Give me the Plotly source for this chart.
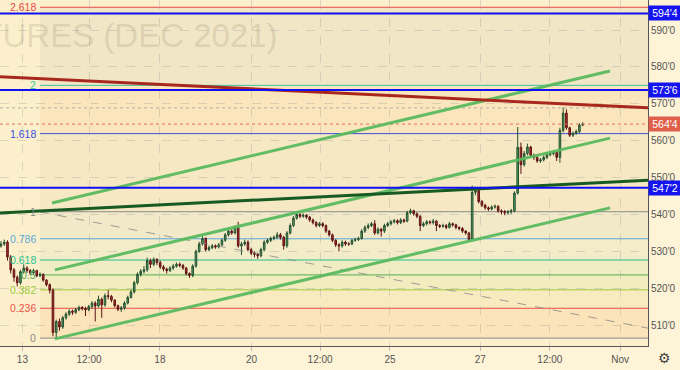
import plotly.graph_objects as go

# ---------------- data (hourly bars, price in cents/bu) ----------------
opens = [531.5, 532.0, 532.5, 528.5, 525.0, 523.0, 521.5, 524.5, 525.5, 524.8,
         524.2, 524.8, 523.4, 523.8, 522.2, 521.0, 519.5, 508.0, 511.0, 509.5,
         512.0, 513.0, 513.8, 513.5, 514.2, 514.8, 514.5, 514.2, 515.0, 516.0,
         515.2, 517.0, 515.5, 518.0, 517.8, 516.8, 515.3, 514.3, 514.7, 516.0,
         517.5, 519.0, 521.5, 523.8, 524.6, 525.0, 527.5, 526.5, 527.8, 527.0,
         525.8, 525.2, 524.8, 525.5, 526.0, 526.5, 526.2, 525.5, 524.0, 523.5,
         526.0, 530.0, 532.0, 533.5, 530.5, 531.0, 531.5, 531.2, 531.8, 533.0,
         534.5, 535.5, 535.0, 536.5, 531.5, 532.0, 532.5, 530.5, 529.5, 529.2,
         528.8, 530.5, 532.5, 533.0, 533.5, 533.8, 534.5, 533.8, 531.5, 535.0,
         537.0, 539.0, 540.0, 539.5, 539.8, 539.3, 538.5, 537.8, 537.0, 537.5,
         537.0, 535.5, 534.5, 533.0, 531.8, 531.5, 532.5, 532.0, 532.0, 533.0,
         533.2, 533.5, 535.5, 536.5, 537.0, 537.5, 535.0, 536.0, 535.5, 537.0,
         537.5, 538.0, 538.3, 537.8, 538.5, 538.2, 540.5, 541.0, 540.2, 539.5,
         537.0, 537.5, 538.0, 537.8, 538.2, 537.0, 536.8, 537.0, 536.5, 537.5,
         537.2, 536.5, 536.2, 535.5, 535.0, 533.2, 546.0, 546.5, 543.5, 542.5,
         541.8, 541.5, 542.0, 542.2, 541.0, 540.8, 540.5, 540.7, 541.0, 545.8,
         558.2, 553.5, 556.5, 558.3, 556.0, 555.5, 554.5, 554.8, 555.5, 556.2,
         556.5, 556.8, 555.5, 562.8, 567.5, 563.5, 561.5, 562.0, 562.5, 564.2]
highs = [532.8, 533.2, 533.0, 529.0, 525.5, 523.5, 525.0, 526.5, 526.0, 525.2,
         525.3, 525.0, 524.3, 524.0, 522.5, 521.3, 520.0, 511.5, 511.8, 512.5,
         513.5, 514.3, 514.2, 514.7, 515.3, 515.2, 515.0, 515.5, 516.5, 516.5,
         518.0, 517.5, 518.6, 519.5, 518.2, 517.0, 515.6, 515.2, 516.5, 518.0,
         519.6, 522.0, 524.3, 525.2, 526.0, 528.3, 528.0, 528.4, 528.2, 527.5,
         526.3, 525.6, 526.0, 526.6, 527.0, 527.0, 526.6, 525.8, 524.3, 526.5,
         530.5, 532.6, 534.2, 533.8, 531.6, 532.0, 531.9, 532.3, 533.5, 535.0,
         536.0, 536.0, 537.0, 538.0, 532.6, 533.2, 533.0, 531.0, 530.0, 529.6,
         531.0, 533.0, 533.5, 534.0, 534.3, 535.2, 535.0, 534.2, 535.5, 537.6,
         539.6, 540.6, 540.4, 540.3, 540.1, 539.6, 538.9, 538.2, 538.0, 537.9,
         537.3, 535.8, 534.8, 533.3, 532.2, 533.0, 532.9, 532.5, 533.4, 533.7,
         534.0, 536.0, 537.0, 537.6, 538.0, 538.5, 536.5, 536.4, 537.5, 538.0,
         538.5, 538.8, 538.7, 539.0, 538.9, 541.0, 541.6, 541.3, 540.6, 539.8,
         538.0, 538.5, 538.4, 538.8, 538.5, 537.4, 537.5, 537.4, 538.0, 537.8,
         537.5, 536.8, 536.6, 535.8, 535.3, 547.8, 547.5, 546.8, 543.9, 542.9,
         542.2, 542.5, 542.7, 542.5, 541.4, 541.2, 541.2, 541.5, 546.3, 563.7,
         559.5, 557.2, 559.2, 558.6, 556.5, 555.8, 555.3, 556.0, 556.7, 557.0,
         557.3, 557.0, 563.5, 569.0, 568.5, 563.8, 562.5, 563.0, 564.7, 565.0]
lows = [531.0, 531.5, 527.5, 524.0, 521.8, 520.5, 521.0, 524.0, 524.2, 523.5,
        523.8, 523.0, 523.0, 521.8, 520.5, 518.6, 507.0, 506.5, 508.5, 509.0,
        511.5, 512.5, 512.8, 513.0, 513.8, 514.0, 512.5, 513.8, 514.5, 511.0,
        514.8, 512.0, 515.0, 517.0, 516.2, 514.8, 513.8, 513.6, 514.2, 515.6,
        517.2, 518.6, 521.0, 523.2, 524.0, 524.5, 525.5, 526.0, 526.3, 525.2,
        524.6, 524.0, 524.4, 525.0, 525.6, 525.7, 525.0, 523.5, 522.8, 523.0,
        525.6, 529.6, 531.6, 530.0, 530.0, 530.6, 530.7, 530.8, 531.4, 532.6,
        534.0, 534.5, 534.6, 531.0, 529.0, 531.5, 530.0, 529.0, 528.4, 528.0,
        528.4, 530.0, 532.0, 532.5, 533.0, 533.4, 533.2, 530.5, 531.0, 534.6,
        536.6, 538.6, 539.0, 539.1, 538.8, 538.0, 537.3, 536.5, 536.6, 536.5,
        535.0, 534.0, 532.5, 531.2, 530.0, 531.0, 531.5, 531.5, 531.7, 532.6,
        532.8, 533.2, 535.0, 536.0, 536.6, 534.5, 534.6, 534.0, 535.0, 536.6,
        537.0, 537.6, 537.3, 537.4, 537.7, 537.9, 540.0, 539.7, 539.0, 535.5,
        536.6, 537.0, 537.3, 537.3, 535.5, 536.3, 536.4, 536.0, 536.2, 536.7,
        536.0, 535.7, 535.0, 534.5, 532.8, 533.0, 545.2, 543.0, 542.0, 541.3,
        541.0, 541.1, 541.6, 540.5, 540.0, 539.8, 540.0, 540.2, 540.6, 545.4,
        551.0, 553.0, 556.0, 555.5, 554.8, 554.0, 554.0, 554.4, 555.0, 555.8,
        556.0, 554.5, 554.0, 562.3, 563.0, 561.0, 561.0, 561.6, 562.0, 564.0]
closes = [532.0, 532.5, 528.5, 525.0, 523.0, 521.5, 524.5, 525.5, 524.8, 524.2,
          524.8, 523.4, 523.8, 522.2, 521.0, 519.5, 508.0, 511.0, 509.5, 512.0,
          513.0, 513.8, 513.5, 514.2, 514.8, 514.5, 514.2, 515.0, 516.0, 515.2,
          517.0, 515.5, 518.0, 517.8, 516.8, 515.3, 514.3, 514.7, 516.0, 517.5,
          519.0, 521.5, 523.8, 524.6, 525.0, 527.5, 526.5, 527.8, 527.0, 525.8,
          525.2, 524.8, 525.5, 526.0, 526.5, 526.2, 525.5, 524.0, 523.5, 526.0,
          530.0, 532.0, 533.5, 530.5, 531.0, 531.5, 531.2, 531.8, 533.0, 534.5,
          535.5, 535.0, 536.5, 531.5, 532.0, 532.5, 530.5, 529.5, 529.2, 528.8,
          530.5, 532.5, 533.0, 533.5, 533.8, 534.5, 533.8, 531.5, 535.0, 537.0,
          539.0, 540.0, 539.5, 539.8, 539.3, 538.5, 537.8, 537.0, 537.5, 537.0,
          535.5, 534.5, 533.0, 531.8, 531.5, 532.5, 532.0, 532.0, 533.0, 533.2,
          533.5, 535.5, 536.5, 537.0, 537.5, 535.0, 536.0, 535.5, 537.0, 537.5,
          538.0, 538.3, 537.8, 538.5, 538.2, 540.5, 541.0, 540.2, 539.5, 537.0,
          537.5, 538.0, 537.8, 538.2, 537.0, 536.8, 537.0, 536.5, 537.5, 537.2,
          536.5, 536.2, 535.5, 535.0, 533.2, 546.0, 546.5, 543.5, 542.5, 541.8,
          541.5, 542.0, 542.2, 541.0, 540.8, 540.5, 540.7, 541.0, 545.8, 558.2,
          553.5, 556.5, 558.3, 556.0, 555.5, 554.5, 554.8, 555.5, 556.2, 556.5,
          556.8, 555.5, 562.8, 567.5, 563.5, 561.5, 562.0, 562.5, 564.2, 564.5]
bars = list(range(len(closes)))

x_tick_pos = [6.6, 27.1, 48.9, 77.1, 98.2, 119.7, 147.5, 168.9, 190.5]
x_tick_text = ["13", "12:00", "18", "20", "12:00", "25", "27", "12:00", "Nov"]
y_tick_vals = [510, 520, 530, 540, 550, 560, 570, 580, 590]
y_tick_text = ["510'0", "520'0", "530'0", "540'0", "550'0", "560'0", "570'0", "580'0", "590'0"]

# Fibonacci retracement (low -> high), starts at bar 12
fib_low, fib_high, fib_start = 506.5, 540.75, 12.0
fib_ratios = [0, 0.236, 0.382, 0.5, 0.618, 0.786, 1, 1.618, 2, 2.618]
fib_labels = ["0", "0.236", "0.382", "0.5", "0.618", "0.786", "1", "1.618", "2", "2.618"]
fib_line_colors = ["#8a8a8a", "#e8504a", "#9cc93a", "#4caf50", "#26c08c", "#5aa8d8",
                   "#8a8a8a", "#3b4fe0", "#3cc4a0", "#e84848"]
fib_fill_colors = ["rgba(245,140,70,0.13)", "rgba(225,200,90,0.10)", "rgba(170,210,80,0.10)",
                   "rgba(90,190,100,0.07)", "rgba(60,180,150,0.05)", "rgba(120,140,160,0.07)",
                   "rgba(200,170,110,0.10)", "rgba(250,160,90,0.14)", "rgba(150,150,150,0.10)"]

# Horizontal level lines (price) and their axis labels
level_prices = [594.5, 573.75, 547.25]
level_labels = ["594'4", "573'6", "547'2"]
last_price, last_label = 564.5, "564'4"
high_dot_price = 568.9

# Trend lines: (x0, y0, x1, y1) in bar index / price
red_line = [-0.3, 577.3, 199.1, 568.9]
dark_green_line = [-0.3, 540.4, 199.1, 549.3]
channel_lines = [[15.7, 543.1, 187.4, 578.9],
                 [16.6, 525.0, 187.4, 560.7],
                 [16.6, 506.3, 187.4, 541.8]]
dashed_line = [12.0, 540.7, 199.1, 509.2]

X_RANGE = [-0.3, 199.1]
Y_RANGE = [504.36, 598.13]
PLOT_W, PLOT_H = 648, 346

# ---------------- figure ----------------
fig = go.Figure()
fig.add_trace(go.Candlestick(
    x=bars, open=opens, high=highs, low=lows, close=closes,
    increasing=dict(line=dict(color="#24502f", width=1), fillcolor="#55a366"),
    decreasing=dict(line=dict(color="#5c1414", width=1), fillcolor="#b8302f"),
    whiskerwidth=0, showlegend=False, hoverinfo="skip"))

shapes = []
annotations = []
rng = fib_high - fib_low
levels = [fib_low + r * rng for r in fib_ratios]
for k in range(len(levels) - 1):
    shapes.append(dict(type="rect", xref="x", yref="y", x0=fib_start, x1=X_RANGE[1],
                       y0=levels[k], y1=levels[k + 1], fillcolor=fib_fill_colors[k],
                       line=dict(width=0), layer="below"))
for lv, lab, col in zip(levels, fib_labels, fib_line_colors):
    shapes.append(dict(type="line", xref="x", yref="y", x0=fib_start, x1=X_RANGE[1],
                       y0=lv, y1=lv, line=dict(color=col, width=1), layer="below"))
    annotations.append(dict(x=fib_start - 0.6, y=lv, xref="x", yref="y", text=lab,
                            showarrow=False, xanchor="right", yanchor="middle",
                            font=dict(family="Liberation Sans", size=10.5, color=col)))

# dotted high line and last price line
shapes.append(dict(type="line", xref="paper", yref="y", x0=0, x1=1, y0=high_dot_price,
                   y1=high_dot_price, line=dict(color="rgba(150,150,150,0.7)", width=1, dash="dot")))
shapes.append(dict(type="line", xref="paper", yref="y", x0=0, x1=1, y0=last_price,
                   y1=last_price, line=dict(color="#e0705a", width=1, dash="dot")))

# gray dashed diagonal
shapes.append(dict(type="line", xref="x", yref="y", x0=dashed_line[0], y0=dashed_line[1],
                   x1=dashed_line[2], y1=dashed_line[3],
                   line=dict(color="rgba(130,130,130,0.75)", width=1, dash="dash")))
# green channels
for ln in channel_lines:
    shapes.append(dict(type="line", xref="x", yref="y", x0=ln[0], y0=ln[1], x1=ln[2], y1=ln[3],
                       line=dict(color="rgba(90,185,95,0.95)", width=3)))
# dark red / dark green trend lines
shapes.append(dict(type="line", xref="x", yref="y", x0=red_line[0], y0=red_line[1],
                   x1=red_line[2], y1=red_line[3], line=dict(color="#a8281e", width=3)))
shapes.append(dict(type="line", xref="x", yref="y", x0=dark_green_line[0], y0=dark_green_line[1],
                   x1=dark_green_line[2], y1=dark_green_line[3], line=dict(color="#175a22", width=3)))
# blue horizontal levels
for p in level_prices:
    shapes.append(dict(type="line", xref="paper", yref="y", x0=0, x1=1, y0=p, y1=p,
                       line=dict(color="#1010f0", width=2)))

# axis price labels
for p, t in zip(level_prices, level_labels):
    annotations.append(dict(x=1, y=p, xref="paper", yref="y", text=t, showarrow=False,
                            xanchor="left", yanchor="middle", bgcolor="#1414f0",
                            font=dict(family="Liberation Sans", size=10.5, color="white"),
                            borderpad=1, width=30, align="center"))
annotations.append(dict(x=1, y=last_price, xref="paper", yref="y", text=last_label,
                        showarrow=False, xanchor="left", yanchor="middle", bgcolor="#e0604c",
                        font=dict(family="Liberation Sans", size=10.5, color="white"),
                        borderpad=1, width=30, align="center"))

# watermark (right end at px 280, centre at px 35 from top)
annotations.append(dict(x=280 / PLOT_W, y=1 - 35 / PLOT_H, xref="paper", yref="paper",
                        text="CORN FUTURES (DEC 2021)", showarrow=False,
                        xanchor="right", yanchor="middle",
                        font=dict(family="Liberation Sans", size=33,
                                  color="rgba(120,105,80,0.18)")))
# settings icon (bottom right corner)
annotations.append(dict(x=664 / PLOT_W, y=(PLOT_H - 358) / PLOT_H, xref="paper", yref="paper",
                        text="⚙", showarrow=False, xanchor="center", yanchor="middle",
                        font=dict(family="DejaVu Sans", size=14, color="#444")))

fig.update_layout(
    width=680, height=370,
    margin=dict(l=0, r=32, t=0, b=24),
    paper_bgcolor="#fdf3d6",
    plot_bgcolor="#fcf0cc",
    shapes=shapes,
    annotations=annotations,
    showlegend=False,
    xaxis=dict(range=X_RANGE, rangeslider=dict(visible=False), tickmode="array",
               tickvals=x_tick_pos, ticktext=x_tick_text, showgrid=True,
               gridcolor="rgba(150,150,150,0.3)", griddash="dash", zeroline=False,
               showline=True, linecolor="#555", linewidth=1, ticks="outside", ticklen=4,
               tickcolor="#bbb", tickfont=dict(family="Liberation Sans", size=10, color="#555")),
    yaxis=dict(range=Y_RANGE, side="right", tickmode="array", tickvals=y_tick_vals,
               ticktext=y_tick_text, showgrid=True, gridcolor="rgba(150,150,150,0.3)",
               griddash="dash", zeroline=False, showline=True, linecolor="#555", linewidth=1,
               ticks="", tickfont=dict(family="Liberation Sans", size=10, color="#555")),
)

fig.write_html("out.html")
